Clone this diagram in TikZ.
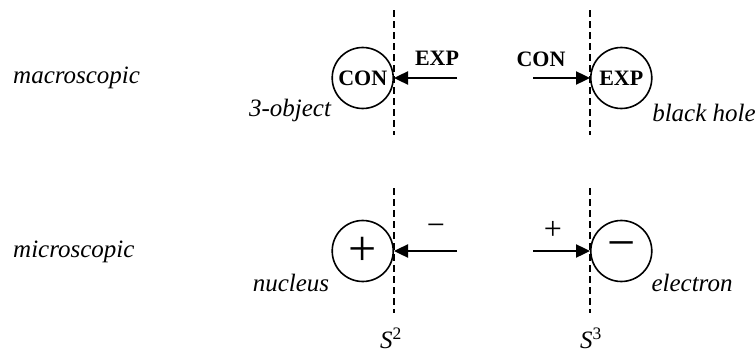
\documentclass[tikz,border=0pt]{standalone}
\usepackage{fontspec}
\setmainfont{Liberation Serif}
\usetikzlibrary{arrows.meta}

\begin{document}
\begin{tikzpicture}[x=1pt, y=-1pt]
    \tikzset{
        body/.style={
            draw, circle, line width=1.6pt,
            minimum size=61pt, inner sep=0pt
        },
        tag/.style={
            font=\fontsize{25}{29}\selectfont\itshape
        },
        charge/.style={
            font=\fontsize{22}{26}\selectfont\bfseries
        },
        sign/.style={
            font=\fontsize{32}{36}\selectfont
        },
        push/.style={
            line width=2.4pt,
            -{Triangle[length=14pt, width=13pt]}
        },
        wall/.style={
            line width=1.3pt, dash pattern=on 7pt off 4pt
        },
    }
    \useasboundingbox (0,0) rectangle (756,356);

    % ==== Surfaces ====
    \coordinate (s2top) at (394,10);
    \coordinate (s2mid) at (394,135);
    \coordinate (s2low) at (394,188);
    \coordinate (s2bot) at (394,313);
    \coordinate (s3top) at (590,10);
    \coordinate (s3mid) at (590,135);
    \coordinate (s3low) at (590,188);
    \coordinate (s3bot) at (590,313);
    \draw[wall] (s2top) -- (s2mid);
    \draw[wall] (s2low) -- (s2bot);
    \draw[wall] (s3top) -- (s3mid);
    \draw[wall] (s3low) -- (s3bot);

    % ==== Row labels ====
    \node[tag, anchor=west, inner sep=0pt] (macro) at (13,78) {macroscopic};
    \node[tag, anchor=west, inner sep=0pt] (micro) at (13,252) {microscopic};

    % ==== Top row: bodies ====
    \node[body, charge, anchor=east] (con) at (394,78) {CON};
    \node[body, charge, anchor=west] (exp) at (590,78) {EXP};
    \coordinate (expfrom) at (457,78);
    \coordinate (confrom) at (533,78);
    \draw[push] (expfrom) -- (con.east);
    \draw[push] (confrom) -- (exp.west);
    \node[charge] (explbl) at (437,58) {EXP};
    \node[charge] (conlbl) at (541,59) {CON};
    \node[tag] (obj) at (290,110) {3-object};
    \node[tag] (hole) at (704,113) {black hole};

    % ==== Bottom row: charges ====
    \node[body, anchor=east] (plus) at (394,251) {};
    \node[body, anchor=west] (minus) at (590,251) {};
    \node[font=\fontsize{50}{54}\selectfont] at (plus) {+};
    \node[font=\fontsize{50}{54}\selectfont] at (minus) {−};
    \coordinate (negfrom) at (457,251);
    \coordinate (posfrom) at (533,251);
    \draw[push] (negfrom) -- (plus.east);
    \draw[push] (posfrom) -- (minus.west);
    \node[sign] (neglbl) at (436,230) {−};
    \node[sign] (poslbl) at (553,230) {+};
    \node[tag] (nuc) at (291,283) {nucleus};
    \node[tag] (elec) at (692,283) {electron};

    % ==== Surface names ====
    \node[font=\fontsize{25}{29}\selectfont] (s2) at (391,338) {\textit{S}\textsuperscript{2}};
    \node[font=\fontsize{25}{29}\selectfont] (s3) at (591,338) {\textit{S}\textsuperscript{3}};
\end{tikzpicture}
\end{document}
